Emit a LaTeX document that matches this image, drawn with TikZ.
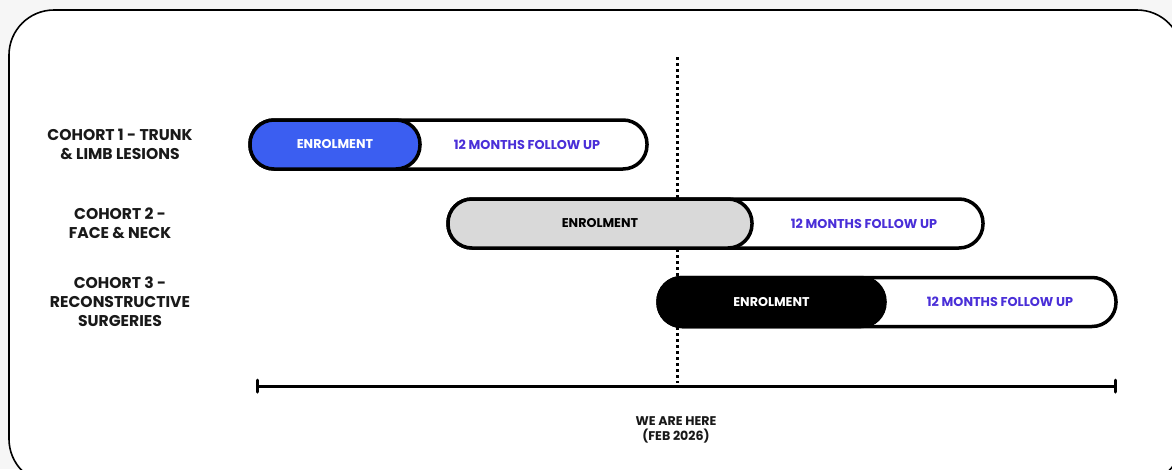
\documentclass[tikz,border=0pt]{standalone}
\usepackage{fontspec}
\setmainfont{Poppins}
\usetikzlibrary{calc}
\definecolor{bgout}{HTML}{F6F6F6}
\definecolor{enrblue}{HTML}{3B5EF1}
\definecolor{fupurple}{HTML}{4A2FD8}
\definecolor{enrgray}{HTML}{D9D9D9}
\tikzset{
  pill/.style={draw=black, line width=3.5pt, rounded corners=24pt, minimum height=49pt, inner sep=0pt},
  enrtext/.style={font=\fontsize{12.7}{14}\selectfont\bfseries},
  futext/.style={font=\fontsize{12.8}{14}\selectfont\bfseries, text=fupurple},
  cohort/.style={font=\fontsize{15.6}{19}\selectfont\bfseries, align=center, text=black!90},
  herelabel/.style={font=\fontsize{12.6}{15}\selectfont\bfseries, align=center, text=black!90},
}
\begin{document}
\begin{tikzpicture}[x=1pt,y=-1pt]
\useasboundingbox (0,0) rectangle (1172,469);
\clip (0,0) rectangle (1172,469);
\fill[bgout] (0,0) rectangle (1172,469);
\draw[line width=1.6pt, fill=white, rounded corners=45pt] (9,10) rectangle (1182,484);

% dotted "we are here" line
\coordinate (dtop) at (677,57);
\coordinate (dbot) at (677,383);
\draw[line width=3pt, dash pattern=on 3pt off 3pt] (dtop) -- (dbot);

% timeline
\coordinate (tl) at (257,386);
\coordinate (tr) at (1115,386);
\draw[line width=3pt] (tl) -- (tr);
\draw[line width=3pt, line cap=round] ($(tl)+(0,-6)$) -- ($(tl)+(0,6)$);
\draw[line width=3pt, line cap=round] ($(tr)+(0,-6)$) -- ($(tr)+(0,6)$);

% cohort 1
\node[pill, fill=white, minimum width=397pt] (c1) at (448.5,144.5) {};
\node[pill, fill=enrblue, minimum width=170pt, text=white, enrtext] (c1e) at (335,144.5) {ENROLMENT};
\node[futext] (c1f) at (527,144.5) {12 MONTHS FOLLOW UP};

% cohort 2
\node[pill, fill=white, minimum width=535pt] (c2) at (715.5,223.5) {};
\node[pill, fill=enrgray, minimum width=304pt, text=black, enrtext] (c2e) at (600,223.5) {ENROLMENT};
\node[futext] (c2f) at (864,223.5) {12 MONTHS FOLLOW UP};

% cohort 3
\node[pill, fill=white, minimum width=458pt] (c3) at (887,302) {};
\node[pill, fill=black, minimum width=227pt, text=white, enrtext] (c3e) at (771.5,302) {ENROLMENT};
\node[futext] (c3f) at (1000,302) {12 MONTHS FOLLOW UP};

% labels
\node[cohort] (l1) at (120,144) {COHORT 1 - TRUNK\\\& LIMB LESIONS};
\node[cohort] (l2) at (120,223) {COHORT 2 -\\FACE \& NECK};
\node[cohort] (l3) at (120,302) {COHORT 3 -\\RECONSTRUCTIVE\\SURGERIES};

\node[herelabel] (here) at (676,430) {WE ARE HERE\\(FEB 2026)};
\end{tikzpicture}
\end{document}
